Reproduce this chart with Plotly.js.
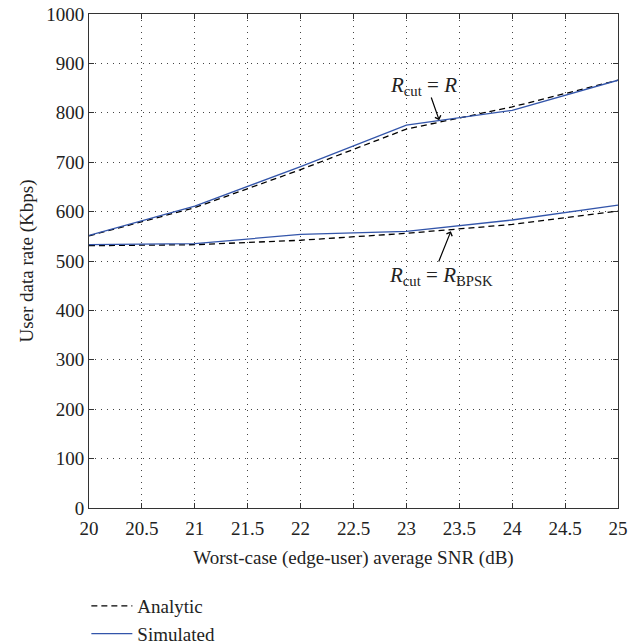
<!DOCTYPE html>
<html>
<head>
<meta charset="utf-8">
<script src="https://cdn.plot.ly/plotly-3.0.1.min.js"></script>
<style>html,body{margin:0;padding:0;background:#fff;}#chart{width:639px;height:644px;}</style>
</head>
<body>
<div id="chart"></div>
<script>
const snr = [20, 21, 22, 23, 24, 25];
const analyticR = [551, 608, 685, 767, 812, 866];
const simulatedR = [552, 611, 691, 775, 805, 866];
const analyticBPSK = [531, 533, 542, 556, 574, 601];
const simulatedBPSK = [533, 535, 554, 560, 583, 613];
const xTicks = [20, 20.5, 21, 21.5, 22, 22.5, 23, 23.5, 24, 24.5, 25];
const xTickText = ['20', '20.5', '21', '21.5', '22', '22.5', '23', '23.5', '24', '24.5', '25'];
const yTicks = [0, 100, 200, 300, 400, 500, 600, 700, 800, 900, 1000];

const FONT = 'Liberation Serif, Times New Roman, serif';
const blue = 'rgb(51,85,170)';
const dashStyle = '6px,4px';

const traces = [
  {x: snr, y: analyticR, mode: 'lines', name: 'Analytic', line: {color: '#000', width: 1.3, dash: dashStyle}, legendgroup: 'a'},
  {x: snr, y: simulatedR, mode: 'lines', name: 'Simulated', line: {color: blue, width: 1.3}, legendgroup: 's'},
  {x: snr, y: analyticBPSK, mode: 'lines', name: 'Analytic', line: {color: '#000', width: 1.3, dash: dashStyle}, showlegend: false, legendgroup: 'a'},
  {x: snr, y: simulatedBPSK, mode: 'lines', name: 'Simulated', line: {color: blue, width: 1.3}, showlegend: false, legendgroup: 's'}
];

const layout = {
  width: 639, height: 644,
  margin: {l: 89, r: 21, t: 14, b: 136, autoexpand: false},
  paper_bgcolor: '#fff', plot_bgcolor: '#fff',
  font: {family: FONT, size: 19, color: '#222'},
  showlegend: true,
  legend: {x: -0.005, xanchor: 'left', y: -0.16, yanchor: 'top', bgcolor: 'rgba(0,0,0,0)', font: {family: FONT, size: 19, color: '#222'}, tracegroupgap: 0, itemwidth: 41},
  xaxis: {
    range: [20, 25], tickvals: xTicks, ticktext: xTickText,
    showgrid: true, gridcolor: '#444', griddash: '1px,5px', gridwidth: 1,
    showline: true, linecolor: '#333', linewidth: 1, mirror: 'ticks',
    ticks: 'inside', ticklen: 5, tickcolor: '#333',
    zeroline: false, ticklabelstandoff: 3,
    tickfont: {family: FONT, size: 19, color: '#222'},
    title: {text: 'Worst-case (edge-user) average SNR (dB)', font: {family: FONT, size: 19, color: '#222'}, standoff: 12}
  },
  yaxis: {
    range: [0, 1000], tickvals: yTicks,
    showgrid: true, gridcolor: '#444', griddash: '1px,5px', gridwidth: 1,
    showline: true, linecolor: '#333', linewidth: 1, mirror: 'ticks',
    ticks: 'inside', ticklen: 5, tickcolor: '#333',
    zeroline: false,
    tickfont: {family: FONT, size: 19, color: '#222'},
    title: {text: 'User data rate (Kbps)', font: {family: FONT, size: 19, color: '#222'}, standoff: 7}
  },
  annotations: [
    {x: 23.16, y: 854, xref: 'x', yref: 'y', showarrow: false,
     text: '<i>R</i><sub>cut</sub> = <i>R</i>', font: {family: FONT, size: 21, color: '#222'}},
    {x: 23.31, y: 785, xref: 'x', yref: 'y', ax: 23.23, ay: 834, axref: 'x', ayref: 'y',
     text: '', showarrow: true, arrowhead: 4, arrowsize: 1, arrowwidth: 1.2, arrowcolor: '#000', standoff: 0, startstandoff: 0},
    {x: 23.33, y: 469, xref: 'x', yref: 'y', showarrow: false,
     text: '<i>R</i><sub>cut</sub> = <i>R</i><sub>BPSK</sub>', font: {family: FONT, size: 21, color: '#222'}},
    {x: 23.42, y: 560, xref: 'x', yref: 'y', ax: 23.3, ay: 496, axref: 'x', ayref: 'y',
     text: '', showarrow: true, arrowhead: 4, arrowsize: 1, arrowwidth: 1.2, arrowcolor: '#000', standoff: 0, startstandoff: 0}
  ]
};

Plotly.newPlot('chart', traces, layout, {staticPlot: true, displayModeBar: false});
</script>
</body>
</html>
